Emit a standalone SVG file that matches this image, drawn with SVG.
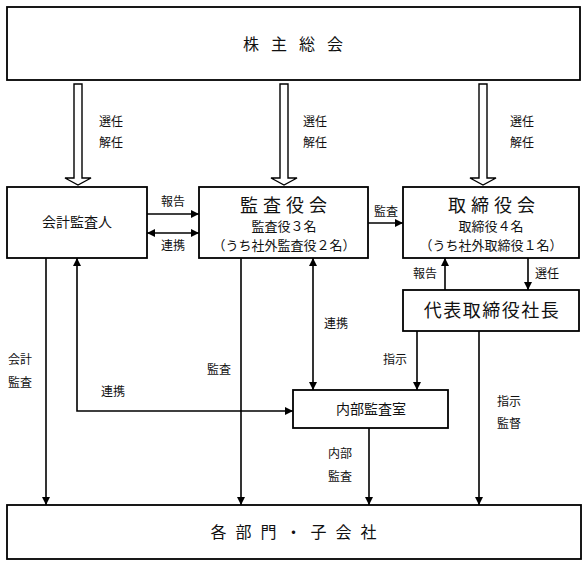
<svg xmlns="http://www.w3.org/2000/svg" width="587" height="566" viewBox="0 0 587 566">
<style>
.box{fill:#fff;stroke:#000;stroke-width:1.8}
.ln{fill:none;stroke:#000;stroke-width:1.6}
.hol{fill:#fff;stroke:#000;stroke-width:1.4}
text{font-family:"Liberation Serif","Noto Sans CJK JP",serif;fill:#111;text-anchor:middle;dominant-baseline:central}
.lb{font-size:12px}
.big{font-size:18px}
.mid{font-size:14px}
.sm{font-size:13px}
</style>
<defs>
<marker id="ah" viewBox="0 0 10 10" refX="10" refY="5" markerWidth="8" markerHeight="8" markerUnits="userSpaceOnUse" orient="auto-start-reverse">
<path d="M0,0 L10,5 L0,10 Z" fill="#000"/>
</marker>
</defs>
<rect width="587" height="566" fill="#fff"/>

<g id="connectors">
<!-- hollow arrows -->
<polygon class="hol" points="74,84 82,84 82,178 91,178 78,185 65,178 74,178"/>
<polygon class="hol" points="280,84 288,84 288,178 297,178 284,185 271,178 280,178"/>
<polygon class="hol" points="479,84 487,84 487,178 496,178 483,185 470,178 479,178"/>
<!-- 報告 / 連携 between 会計監査人 and 監査役会 -->
<line class="ln" x1="147" y1="214" x2="199" y2="214" marker-end="url(#ah)"/>
<line class="ln" x1="147" y1="233" x2="199" y2="233" marker-start="url(#ah)" marker-end="url(#ah)"/>
<!-- 監査 to 取締役会 -->
<line class="ln" x1="368" y1="223" x2="403" y2="223" marker-end="url(#ah)"/>
<!-- 報告 up / 選任 down -->
<line class="ln" x1="445" y1="290" x2="445" y2="258" marker-end="url(#ah)"/>
<line class="ln" x1="528" y1="258" x2="528" y2="290" marker-end="url(#ah)"/>
<!-- 指示 to 内部監査室 -->
<line class="ln" x1="417" y1="331" x2="417" y2="390" marker-end="url(#ah)"/>
<!-- 連携 vertical double -->
<line class="ln" x1="313" y1="258" x2="313" y2="390" marker-start="url(#ah)" marker-end="url(#ah)"/>
<!-- 会計監査 -->
<line class="ln" x1="46" y1="258" x2="46" y2="505" marker-end="url(#ah)"/>
<!-- 連携 L -->
<polyline class="ln" points="77,258 77,411 293,411" marker-start="url(#ah)" marker-end="url(#ah)"/>
<!-- 監査 -->
<line class="ln" x1="241" y1="258" x2="241" y2="505" marker-end="url(#ah)"/>
<!-- 内部監査 -->
<line class="ln" x1="369" y1="428" x2="369" y2="505" marker-end="url(#ah)"/>
<!-- 指示監督 -->
<line class="ln" x1="479" y1="331" x2="479" y2="505" marker-end="url(#ah)"/>
</g>

<g id="labels">
<text class="lb" x="111" y="122">選任</text>
<text class="lb" x="111" y="143">解任</text>
<text class="lb" x="315" y="122">選任</text>
<text class="lb" x="315" y="143">解任</text>
<text class="lb" x="522" y="122">選任</text>
<text class="lb" x="522" y="143">解任</text>
<text class="lb" x="173" y="202">報告</text>
<text class="lb" x="173" y="246">連携</text>
<text class="lb" x="386" y="212">監査</text>
<text class="lb" x="425" y="274">報告</text>
<text class="lb" x="547" y="274">選任</text>
<text class="lb" x="336" y="324">連携</text>
<text class="lb" x="395" y="360">指示</text>
<text class="lb" x="20" y="360">会計</text>
<text class="lb" x="20" y="383">監査</text>
<text class="lb" x="219" y="370">監査</text>
<text class="lb" x="113" y="392">連携</text>
<text class="lb" x="509" y="402">指示</text>
<text class="lb" x="509" y="424">監督</text>
<text class="lb" x="340" y="454">内部</text>
<text class="lb" x="340" y="477">監査</text>
</g>

<g id="shareholders">
<rect class="box" x="7" y="7" width="573" height="73"/>
<text style="font-size:16px;letter-spacing:12px" x="299" y="44">株主総会</text>
</g>

<g id="accounting-auditor">
<rect class="box" x="7" y="187" width="140" height="71"/>
<text class="mid" x="77" y="222">会計監査人</text>
</g>

<g id="audit-board">
<rect class="box" x="199" y="187" width="169" height="71"/>
<text class="big" style="letter-spacing:5px" x="286" y="206">監査役会</text>
<text class="sm" x="284" y="226">監査役３名</text>
<text class="sm" x="284" y="245">（うち社外監査役２名）</text>
</g>

<g id="board">
<rect class="box" x="403" y="187" width="176" height="71"/>
<text class="big" style="letter-spacing:5px" x="494" y="206">取締役会</text>
<text class="sm" x="491" y="226">取締役４名</text>
<text class="sm" x="491" y="245">（うち社外取締役１名）</text>
</g>

<g id="president">
<rect class="box" x="403" y="290" width="176" height="41"/>
<text class="big" style="letter-spacing:1.5px" x="492" y="311">代表取締役社長</text>
</g>

<g id="internal-audit">
<rect class="box" x="293" y="390" width="155" height="38"/>
<text class="mid" x="371" y="409">内部監査室</text>
</g>

<g id="divisions">
<rect class="box" x="7" y="505" width="574" height="54"/>
<text style="font-size:16px;letter-spacing:9px" x="298" y="532">各部門・子会社</text>
</g>
</svg>
